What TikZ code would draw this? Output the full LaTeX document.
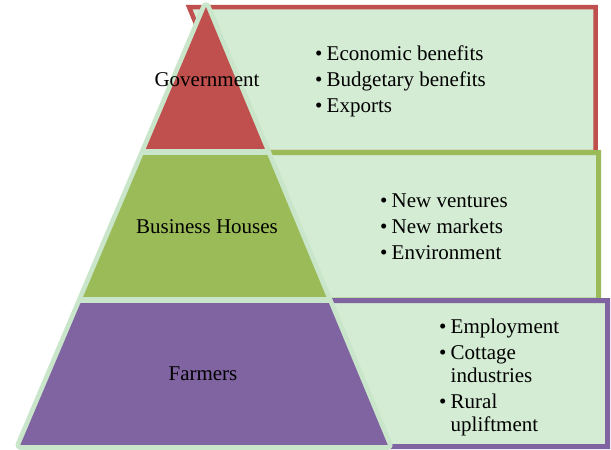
\documentclass[tikz,border=0pt]{standalone}
\usepackage{fontspec}
\setmainfont{Liberation Serif}
\definecolor{redc}{RGB}{192,80,77}
\definecolor{greenc}{RGB}{155,187,89}
\definecolor{purplec}{RGB}{128,100,162}
\definecolor{boxfill}{RGB}{212,235,212}
\definecolor{pyline}{RGB}{201,230,202}
\newcommand{\blt}{\makebox[11.5pt][l]{•}}
\newcommand{\bli}{\hspace*{11.5pt}}
\begin{document}
\begin{tikzpicture}[x=1pt,y=-1pt,
  lbl/.style={inner sep=0pt, text=black, font=\fontsize{21}{25}\selectfont},
  item/.style={lbl, anchor=base west},
  listbox/.style={line width=#1, fill=boxfill, line join=miter},
  listbox/.default=5pt]
\useasboundingbox (0,0) rectangle (611,450);
% list boxes (behind the pyramid)
\draw[listbox=4.5pt, draw=redc] (189,7) -- (595.5,7) -- (595.5,152) -- (249.4,152) -- cycle;
\draw[listbox, draw=greenc] (262,152.5) -- (598.5,152.5) -- (598.5,300) -- (322,300) -- cycle;
\draw[listbox, draw=purplec] (320,300.5) -- (607.5,300.5) -- (607.5,446.5) -- (380.6,446.5) -- cycle;
% pyramid
\coordinate (A) at (206,7);
\coordinate (BL) at (20.3,445);
\coordinate (BR) at (387.8,445);
\draw[draw=pyline, fill=pyline, line width=9.5pt, line join=round] (A) -- (BL) -- (BR) -- cycle;
\begin{scope}
  \clip (A) -- (BL) -- (BR) -- cycle;
  \fill[redc] (0,0) rectangle (611,149);
  \fill[greenc] (0,155) rectangle (611,297);
  \fill[purplec] (0,303) rectangle (611,445);
\end{scope}
% layer labels
\node[lbl, anchor=base] (gov) at (207,86) {Government};
\node[lbl, anchor=base] (bus) at (207,233) {Business Houses};
\node[lbl, anchor=base] (farm) at (203,380) {Farmers};
% lists
\node[item] (r1) at (315,60) {\blt Economic benefits};
\node[item] (r2) at (315,86) {\blt Budgetary benefits};
\node[item] (r3) at (315,112) {\blt Exports};
\node[item] (g1) at (380,207) {\blt New ventures};
\node[item] (g2) at (380,233) {\blt New markets};
\node[item] (g3) at (380,259) {\blt Environment};
\node[item] (p1) at (439,333) {\blt Employment};
\node[item] (p2) at (439,359) {\blt Cottage};
\node[item] (p3) at (439,382) {\bli industries};
\node[item] (p4) at (439,408) {\blt Rural};
\node[item] (p5) at (439,431) {\bli upliftment};
\end{tikzpicture}
\end{document}
